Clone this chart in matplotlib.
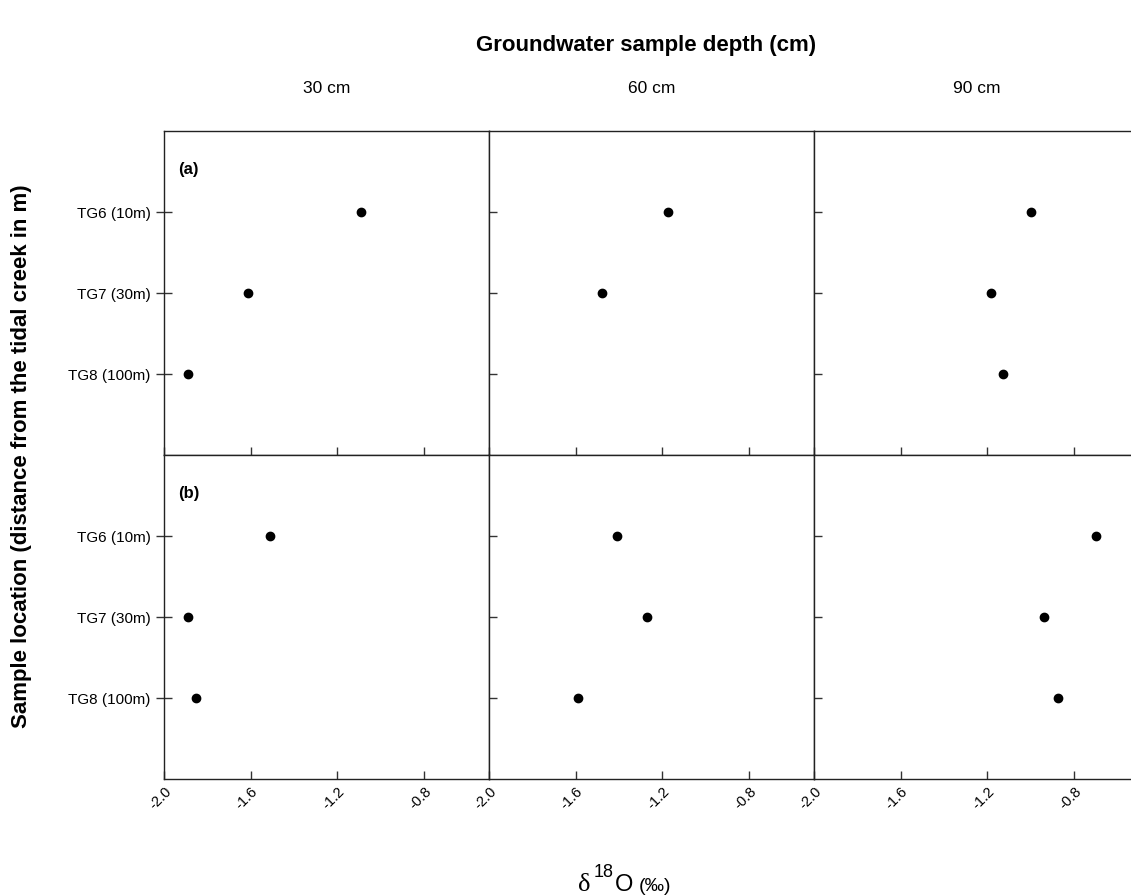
import numpy as np
import matplotlib
matplotlib.use("Agg")
import matplotlib.pyplot as plt

plt.rcParams["font.family"] = ["Liberation Sans", "DejaVu Sans"]
plt.rcParams["axes.unicode_minus"] = False

# data
depths = ["30 cm", "60 cm", "90 cm"]
sites = ["TG6 (10m)", "TG7 (30m)", "TG8 (100m)"]
site_pos = [3, 2, 1]
panel_tags = ["(a)", "(b)"]

d18o_a = [
    [-1.09, -1.61, -1.89],      # 30 cm
    [-1.175, -1.48, np.nan],    # 60 cm
    [-1.00, -1.185, -1.13],     # 90 cm
]
d18o_b = [
    [-1.51, -1.89, -1.85],
    [-1.41, -1.27, -1.59],
    [-0.70, -0.94, -0.875],
]
rows = [d18o_a, d18o_b]

xticks = [-2.0, -1.6, -1.2, -0.8]
xticklabels = ["-2.0", "-1.6", "-1.2", "-0.8"]

W, H = 1131, 896
fig = plt.figure(figsize=(W / 100, H / 100), dpi=100)

left, pw = 164, 325
tops = [131, 455]
ph = 324

for r, data in enumerate(rows):
    for c in range(3):
        x0 = left + c * pw
        y0 = tops[r] + ph
        ax = fig.add_axes([x0 / W, 1 - y0 / H, pw / W, ph / H])
        ax.plot(data[c], site_pos, "o", color="black", markersize=6, linestyle="none")
        ax.set_xlim(-2.0, -0.5)
        ax.set_ylim(0, 4)
        ax.set_xticks(xticks)
        ax.set_yticks(site_pos)
        for s in ax.spines.values():
            s.set_color("#222222")
            s.set_linewidth(1.0)
        ax.tick_params(axis="x", direction="in", length=6, width=1, color="#333333")
        if r == 1:
            ax.set_xticklabels(xticklabels, rotation=45, ha="right",
                               rotation_mode="anchor", fontsize=10.5)
            ax.tick_params(axis="x", pad=4)
        else:
            ax.set_xticklabels([])
        if c == 0:
            ax.set_yticklabels(sites, fontsize=11)
            ax.tick_params(axis="y", direction="inout", length=12, width=1, color="#333333")
            ax.text(0.043, 0.88, panel_tags[r], transform=ax.transAxes,
                    fontsize=12, fontweight="bold", va="center")
        else:
            ax.set_yticklabels([])
            ax.tick_params(axis="y", direction="in", length=6, width=1, color="#333333")
        if r == 0:
            ax.text(0.5, (y0 - 88) / ph, depths[c], transform=ax.transAxes,
                    ha="center", va="center", fontsize=12.5)

fig.text(646 / W, 1 - 46 / H, "Groundwater sample depth (cm)",
         ha="center", va="center", fontsize=16, fontweight="bold")
fig.text(22 / W, 1 - 456 / H, "Sample location (distance from the tidal creek in m)",
         ha="center", va="center", rotation=90, fontsize=16, fontweight="bold")

# x axis label: delta 18 O (permil)
base = 1 - 891 / H
fig.text(578 / W, base, "δ", family="Liberation Serif", fontsize=19, va="baseline")
fig.text(594 / W, 1 - 877 / H, "18", fontsize=13, va="baseline")
fig.text(615 / W, base, "O", fontsize=17, va="baseline")
fig.text(639 / W, base, "(‰)", fontsize=14, va="baseline")

fig.savefig("out.png", dpi=100)
